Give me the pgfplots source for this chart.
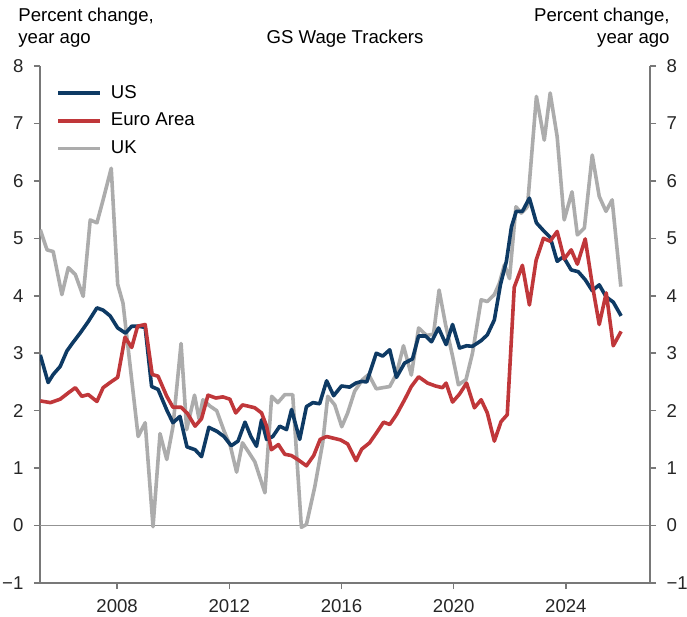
\documentclass[border=0pt]{standalone}
\usepackage{pgfplots}
\pgfplotsset{compat=1.18}
\usepackage{fontspec}
\setmainfont{Liberation Sans}
\definecolor{usblue}{RGB}{14,58,100}
\definecolor{eured}{RGB}{192,55,58}
\definecolor{ukgray}{RGB}{172,172,172}
\definecolor{axgray}{RGB}{120,120,120}
\begin{document}
\fontsize{9.3}{11}\selectfont
\begin{tikzpicture}
\useasboundingbox (-20pt,-17pt) rectangle (323.5pt,291.5pt);
\pgfplotsset{
 common/.style={scale only axis, width=305pt, height=258.5pt,
  xmin=2005.25, xmax=2027.0, ymin=-1, ymax=8,
  ytick={-1,0,1,2,3,4,5,6,7,8}, yticklabels={−1,0,1,2,3,4,5,6,7,8},
  tick align=outside, major tick length=3pt,
  axis line style={axgray, line width=0.8pt},
  tick style={axgray, line width=0.8pt},
  tick label style={font=\fontsize{9.3}{11}\selectfont, text=black!85},
 },
 ser/.style={line width=1.8pt, line join=round},
}
\begin{axis}[common, axis x line*=bottom, axis y line*=left,
  xtick={2008,2012,2016,2020,2024}, xticklabels={2008,2012,2016,2020,2024},
  xticklabel style={yshift=-2pt}, yticklabel style={xshift=-2pt},
  legend style={at={(axis description cs:0,1)}, anchor=north west, xshift=8pt, yshift=-7.5pt,
    draw=none, fill=none, inner sep=0pt, row sep=2pt, font=\fontsize{9.3}{11}\selectfont,
    /tikz/every odd column/.append style={column sep=2.5pt}},
  legend cell align=left,
  legend image code/.code={\draw[#1] (0pt,0pt) -- (21pt,0pt);},
]
\addlegendimage{ser, usblue}\addlegendentry{US}
\addlegendimage{ser, eured}\addlegendentry{Euro Area}
\addlegendimage{ser, ukgray}\addlegendentry{UK}
\addplot[axgray!80, line width=0.6pt, forget plot] coordinates {(2005.25,0) (2027,0)};
% UK
\addplot[ser, ukgray, forget plot] coordinates {
(2005.26,5.15)(2005.50,4.80)(2005.72,4.77)(2006.03,4.02)(2006.26,4.49)(2006.51,4.37)(2006.79,3.99)(2007.04,5.32)(2007.28,5.27)(2007.50,5.67)(2007.79,6.22)(2008.02,4.20)(2008.21,3.87)(2008.75,1.55)(2009.00,1.79)(2009.28,-0.02)(2009.53,1.60)(2009.77,1.15)(2009.99,1.72)(2010.28,3.17)(2010.48,1.67)(2010.76,2.27)(2010.92,1.86)(2011.06,2.19)(2011.31,2.08)(2011.55,2.00)(2011.81,1.65)(2012.04,1.38)(2012.26,0.93)(2012.47,1.44)(2012.66,1.30)(2012.91,1.11)(2013.27,0.57)(2013.51,2.25)(2013.73,2.14)(2013.98,2.28)(2014.26,2.28)(2014.57,-0.03)(2014.75,0.02)(2015.05,0.68)(2015.33,1.44)(2015.51,2.25)(2015.76,2.10)(2016.01,1.72)(2016.22,1.96)(2016.47,2.34)(2016.75,2.54)(2016.97,2.63)(2017.24,2.38)(2017.47,2.40)(2017.72,2.42)(2017.96,2.64)(2018.21,3.13)(2018.49,2.62)(2018.75,3.44)(2019.03,3.31)(2019.28,3.33)(2019.48,4.10)(2019.71,3.50)(2019.96,2.95)(2020.17,2.45)(2020.44,2.54)(2020.67,3.00)(2020.98,3.93)(2021.20,3.90)(2021.45,4.02)(2021.63,4.22)(2021.81,4.54)(2021.99,4.30)(2022.22,5.55)(2022.41,5.44)(2022.63,5.55)(2022.95,7.47)(2023.23,6.71)(2023.44,7.53)(2023.69,6.77)(2023.94,5.32)(2024.22,5.81)(2024.41,5.06)(2024.66,5.18)(2024.94,6.45)(2025.19,5.73)(2025.43,5.47)(2025.65,5.67)(2025.96,4.16)
};
% US
\addplot[ser, usblue, forget plot] coordinates {
(2005.26,2.97)(2005.54,2.49)(2005.72,2.63)(2005.97,2.77)(2006.21,3.04)(2006.40,3.17)(2006.68,3.35)(2006.97,3.55)(2007.28,3.79)(2007.50,3.75)(2007.75,3.65)(2008.02,3.44)(2008.30,3.35)(2008.52,3.47)(2008.75,3.47)(2009.00,3.45)(2009.23,2.42)(2009.46,2.37)(2009.78,2.00)(2009.99,1.79)(2010.24,1.90)(2010.49,1.37)(2010.78,1.32)(2011.01,1.20)(2011.27,1.71)(2011.56,1.64)(2011.81,1.55)(2012.07,1.39)(2012.31,1.47)(2012.56,1.80)(2012.77,1.55)(2012.97,1.38)(2013.15,1.84)(2013.33,1.50)(2013.55,1.55)(2013.80,1.73)(2014.04,1.67)(2014.22,2.02)(2014.51,1.50)(2014.75,2.07)(2014.98,2.14)(2015.22,2.12)(2015.47,2.52)(2015.72,2.26)(2016.00,2.43)(2016.29,2.41)(2016.51,2.48)(2016.72,2.51)(2016.90,2.50)(2017.24,3.00)(2017.47,2.95)(2017.72,3.06)(2017.96,2.58)(2018.25,2.83)(2018.53,2.90)(2018.75,3.30)(2019.00,3.30)(2019.21,3.20)(2019.46,3.44)(2019.73,3.15)(2019.96,3.50)(2020.21,3.09)(2020.46,3.13)(2020.67,3.12)(2020.98,3.22)(2021.20,3.32)(2021.45,3.58)(2021.67,4.20)(2021.88,4.60)(2022.06,5.20)(2022.23,5.47)(2022.45,5.47)(2022.70,5.70)(2022.95,5.27)(2023.23,5.12)(2023.44,5.02)(2023.69,4.60)(2023.91,4.68)(2024.19,4.45)(2024.44,4.42)(2024.69,4.28)(2024.94,4.09)(2025.19,4.19)(2025.44,3.98)(2025.69,3.89)(2025.97,3.65)
};
% Euro Area
\addplot[ser, eured, forget plot] coordinates {
(2005.26,2.17)(2005.62,2.14)(2005.97,2.20)(2006.26,2.31)(2006.51,2.40)(2006.74,2.25)(2006.97,2.28)(2007.28,2.16)(2007.50,2.40)(2007.75,2.49)(2008.02,2.58)(2008.28,3.28)(2008.52,3.10)(2008.73,3.47)(2009.00,3.50)(2009.25,2.63)(2009.46,2.60)(2009.77,2.25)(2009.99,2.06)(2010.28,2.06)(2010.51,1.95)(2010.78,1.73)(2011.01,1.86)(2011.24,2.27)(2011.52,2.22)(2011.77,2.24)(2012.02,2.20)(2012.23,1.96)(2012.47,2.10)(2012.66,2.08)(2012.91,2.05)(2013.15,1.96)(2013.33,1.73)(2013.50,1.32)(2013.75,1.41)(2013.98,1.24)(2014.21,1.22)(2014.44,1.15)(2014.75,1.04)(2015.01,1.22)(2015.24,1.50)(2015.47,1.55)(2015.72,1.52)(2015.97,1.49)(2016.22,1.42)(2016.52,1.13)(2016.72,1.33)(2017.00,1.44)(2017.27,1.63)(2017.50,1.80)(2017.72,1.76)(2017.96,1.93)(2018.25,2.19)(2018.49,2.42)(2018.75,2.59)(2019.07,2.48)(2019.35,2.43)(2019.60,2.40)(2019.73,2.48)(2019.96,2.15)(2020.21,2.29)(2020.46,2.48)(2020.74,2.05)(2020.98,2.19)(2021.20,1.96)(2021.45,1.47)(2021.69,1.81)(2021.91,1.93)(2022.16,4.15)(2022.45,4.53)(2022.70,3.84)(2022.94,4.62)(2023.20,5.00)(2023.44,4.95)(2023.69,5.12)(2023.94,4.64)(2024.19,4.80)(2024.41,4.55)(2024.69,4.99)(2024.94,4.20)(2025.19,3.50)(2025.44,4.05)(2025.69,3.13)(2025.97,3.38)
};
\end{axis}
\begin{axis}[common, axis y line*=right, axis x line=none, xtick=\empty,
  yticklabel style={xshift=2pt}]
\end{axis}
\node[anchor=base west, inner sep=0pt] at (-11pt,280.5pt) {Percent change,};
\node[anchor=base west, inner sep=0pt] at (-11pt,269.5pt) {year ago};
\node[anchor=base east, inner sep=0pt] at (315pt,280.5pt) {Percent change,};
\node[anchor=base east, inner sep=0pt] at (315pt,269.5pt) {year ago};
\node[anchor=base, inner sep=0pt] at (152.5pt,269.5pt) {GS Wage Trackers};
\end{tikzpicture}
\end{document}
